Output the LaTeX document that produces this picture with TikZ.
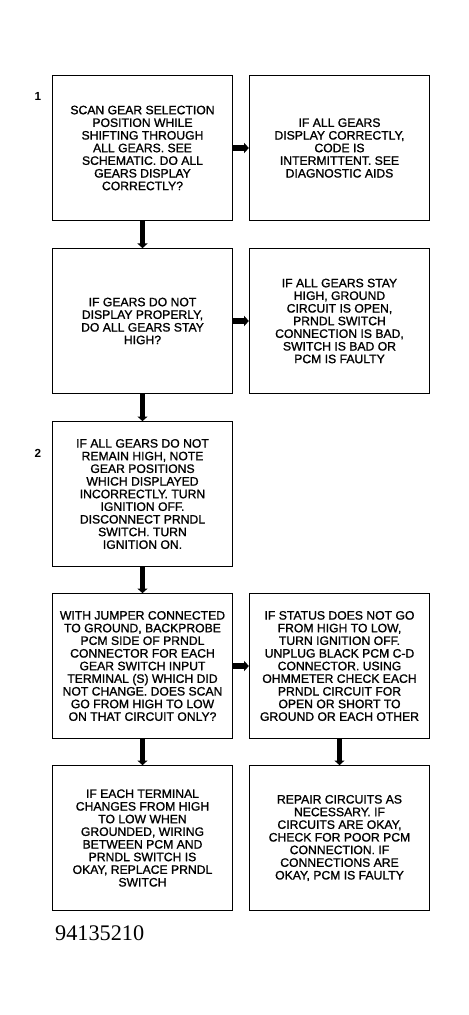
\documentclass[tikz,border=0pt]{standalone}
\usepackage{fontspec}
\setmainfont{Liberation Sans}
\newfontfamily\plotfont[FakeBold=1.2]{Liberation Sans}
\newfontfamily\numfont{Liberation Serif}
\usetikzlibrary{positioning, arrows.meta}

\begin{document}
\begin{tikzpicture}[x=0.03cm, y=-0.03cm,
    stepbox/.style={draw, line width=1.1pt, minimum width=5.4cm, minimum height=4.33cm,
        align=center, inner sep=1pt, font=\plotfont\fontsize{10.4}{10.8}\selectfont},
    flow/.style={line width=4.6pt, -{Triangle[length=4pt, width=8.5pt]}},
    steplabel/.style={font=\bfseries\fontsize{10}{12}\selectfont}]
    \useasboundingbox (0,0) rectangle (468,1015);

    % left column
    \node[stepbox] (scan) at (142.5,148) {SCAN GEAR SELECTION\\POSITION WHILE\\SHIFTING THROUGH\\ALL GEARS. SEE\\SCHEMATIC. DO ALL\\GEARS DISPLAY\\CORRECTLY?};
    \node[stepbox] (stayhigh) at (142.5,321) {IF GEARS DO NOT\\DISPLAY PROPERLY,\\DO ALL GEARS STAY\\HIGH?};
    \node[stepbox] (note) at (142.5,494) {IF ALL GEARS DO NOT\\REMAIN HIGH, NOTE\\GEAR POSITIONS\\WHICH DISPLAYED\\INCORRECTLY. TURN\\IGNITION OFF.\\DISCONNECT PRNDL\\SWITCH. TURN\\IGNITION ON.};
    \node[stepbox] (jumper) at (142.5,666) {WITH JUMPER CONNECTED\\TO GROUND, BACKPROBE\\PCM SIDE OF PRNDL\\CONNECTOR FOR EACH\\GEAR SWITCH INPUT\\TERMINAL (S) WHICH DID\\NOT CHANGE. DOES SCAN\\GO FROM HIGH TO LOW\\ON THAT CIRCUIT ONLY?};
    \node[stepbox] (replace) at (142.5,838) {IF EACH TERMINAL\\CHANGES FROM HIGH\\TO LOW WHEN\\GROUNDED, WIRING\\BETWEEN PCM AND\\PRNDL SWITCH IS\\OKAY, REPLACE PRNDL\\SWITCH};

    % right column
    \node[stepbox] (intermit) at (339.5,148) {IF ALL GEARS\\DISPLAY CORRECTLY,\\CODE IS\\INTERMITTENT. SEE\\DIAGNOSTIC AIDS};
    \node[stepbox] (groundopen) at (339.5,321) {IF ALL GEARS STAY\\HIGH, GROUND\\CIRCUIT IS OPEN,\\PRNDL SWITCH\\CONNECTION IS BAD,\\SWITCH IS BAD OR\\PCM IS FAULTY};
    \node[stepbox] (status) at (339.5,666) {IF STATUS DOES NOT GO\\FROM HIGH TO LOW,\\TURN IGNITION OFF.\\UNPLUG BLACK PCM C-D\\CONNECTOR. USING\\OHMMETER CHECK EACH\\PRNDL CIRCUIT FOR\\OPEN OR SHORT TO\\GROUND OR EACH OTHER};
    \node[stepbox] (repair) at (339.5,838) {REPAIR CIRCUITS AS\\NECESSARY. IF\\CIRCUITS ARE OKAY,\\CHECK FOR POOR PCM\\CONNECTION. IF\\CONNECTIONS ARE\\OKAY, PCM IS FAULTY};

    % step numbers
    \node[steplabel] (one) at (38,96) {1};
    \node[steplabel] (two) at (38,453) {2};

    % arrows
    \draw[flow] (scan) -- (stayhigh);
    \draw[flow] (stayhigh) -- (note);
    \draw[flow] (note) -- (jumper);
    \draw[flow] (jumper) -- (replace);
    \draw[flow] (status) -- (repair);
    \draw[flow] (scan) -- (intermit);
    \draw[flow] (stayhigh) -- (groundopen);
    \draw[flow] (jumper) -- (status);

    \node[anchor=west, font=\numfont\fontsize{19}{20}\selectfont] (figno) at (51,933) {94135210};
\end{tikzpicture}
\end{document}
